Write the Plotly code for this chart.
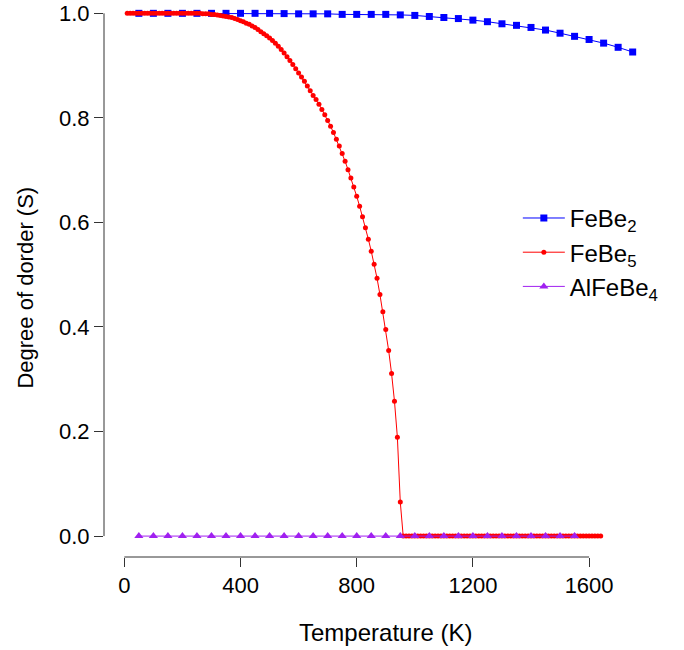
import plotly.graph_objects as go

# ---------------- data ----------------
T_FeBe2 = list(range(50, 1751, 50))
S_FeBe2 = [1.000, 1.000, 1.000, 1.000, 1.000, 1.000, 1.000, 1.000, 1.000,  # 50-450
           1.000, 0.9995, 0.999, 0.999, 0.999, 0.998, 0.998, 0.998, 0.998,  # 500-900
           0.997, 0.996, 0.994, 0.992, 0.990, 0.987, 0.984, 0.980, 0.977,   # 950-1350
           0.973, 0.968, 0.962, 0.956, 0.950, 0.943, 0.935, 0.926]          # 1400-1750

T_FeBe5 = list(range(10, 1641, 10))
S_FeBe5 = ([1.000] * 25 +  # 10-250
           [1.000, 0.999, 0.999, 0.999, 0.998, 0.998, 0.997, 0.996, 0.995, 0.994,   # 260-350
            0.993, 0.992, 0.990, 0.988, 0.986, 0.984, 0.981, 0.979, 0.976, 0.973,   # 360-450
            0.969, 0.965, 0.961, 0.957, 0.953, 0.948, 0.943, 0.937, 0.931, 0.924,   # 460-550
            0.917, 0.910, 0.902, 0.894, 0.886, 0.878, 0.870, 0.861, 0.852, 0.843,   # 560-650
            0.835, 0.826, 0.816, 0.806, 0.795, 0.784, 0.772, 0.759, 0.746, 0.732,   # 660-750
            0.717, 0.701, 0.685, 0.668, 0.650, 0.631, 0.611, 0.590, 0.568, 0.545,   # 760-850
            0.520, 0.493, 0.462, 0.429, 0.395, 0.355, 0.311, 0.258, 0.189, 0.065]   # 860-950
           + [0.000] * 69)  # 960-1640

T_AlFeBe4 = list(range(50, 1551, 50))
S_AlFeBe4 = [0.000] * 31

x_ticks = [0, 400, 800, 1200, 1600]
y_ticks = [0.0, 0.2, 0.4, 0.6, 0.8, 1.0]

FONT = "Liberation Sans, Arial, Helvetica, sans-serif"
AXC = "#333333"
FS = 22

fig = go.Figure()
fig.add_trace(go.Scatter(
    x=T_FeBe2, y=S_FeBe2, mode="lines+markers", name="FeBe<sub>2</sub>",
    legendgroup="a",
    line=dict(color="#0000FF", width=1),
    marker=dict(symbol="square", size=7, color="#0000FF"),
    cliponaxis=False))
fig.add_trace(go.Scatter(
    x=T_FeBe5, y=S_FeBe5, mode="lines+markers", name="FeBe<sub>5</sub>",
    legendgroup="b",
    line=dict(color="#FF0000", width=1),
    marker=dict(symbol="circle", size=5, color="#FF0000"),
    cliponaxis=False))
fig.add_trace(go.Scatter(
    x=T_AlFeBe4, y=S_AlFeBe4, mode="lines+markers", name="AlFeBe<sub>4</sub>",
    legendgroup="c",
    line=dict(color="#A020F0", width=1),
    marker=dict(symbol="triangle-up", size=8, color="#A020F0"),
    cliponaxis=False))

# R-style axis lines spanning only the tick range
fig.add_shape(type="line", xref="x", yref="paper", x0=x_ticks[0], x1=x_ticks[-1],
              y0=0, y1=0, line=dict(color=AXC, width=1))
fig.add_shape(type="line", xref="paper", yref="y", x0=0, x1=0,
              y0=y_ticks[0], y1=y_ticks[-1], line=dict(color=AXC, width=1))

# axis titles
fig.add_annotation(text="Temperature (K)", xref="paper", yref="paper",
                   x=0.5135, y=-0.1364, xanchor="center", yanchor="middle",
                   showarrow=False, font=dict(size=24))
fig.add_annotation(text="Degree of dorder (S)", xref="paper", yref="paper",
                   x=-0.1438, y=0.4838, xanchor="center", yanchor="middle",
                   textangle=-90, showarrow=False, font=dict(size=FS))

fig.update_layout(
    width=684, height=650,
    margin=dict(l=104, r=31, t=0, b=93, pad=0),
    paper_bgcolor="white", plot_bgcolor="white",
    font=dict(family=FONT, size=FS, color="black"),
    showlegend=True,
    legend=dict(x=0.7538, y=0.6483, xanchor="left", yanchor="top",
                bgcolor="rgba(0,0,0,0)", font=dict(size=24),
                tracegroupgap=0, itemwidth=42),
    xaxis=dict(range=[-70, 1820], tickvals=x_ticks, ticktext=[str(v) for v in x_ticks],
               showgrid=False, zeroline=False, showline=False, automargin=False,
               ticks="outside", ticklen=9, tickcolor=AXC, tickwidth=1),
    yaxis=dict(range=[-0.04, 1.0255], tickvals=y_ticks,
               ticktext=[f"{v:.1f}" for v in y_ticks],
               showgrid=False, zeroline=False, showline=False, automargin=False,
               ticklabeloverflow="allow",
               ticks="outside", ticklen=9, tickcolor=AXC, tickwidth=1),
)

fig.write_html("out.html", config={"displayModeBar": False},
               post_script="document.body.style.margin='0px';")
